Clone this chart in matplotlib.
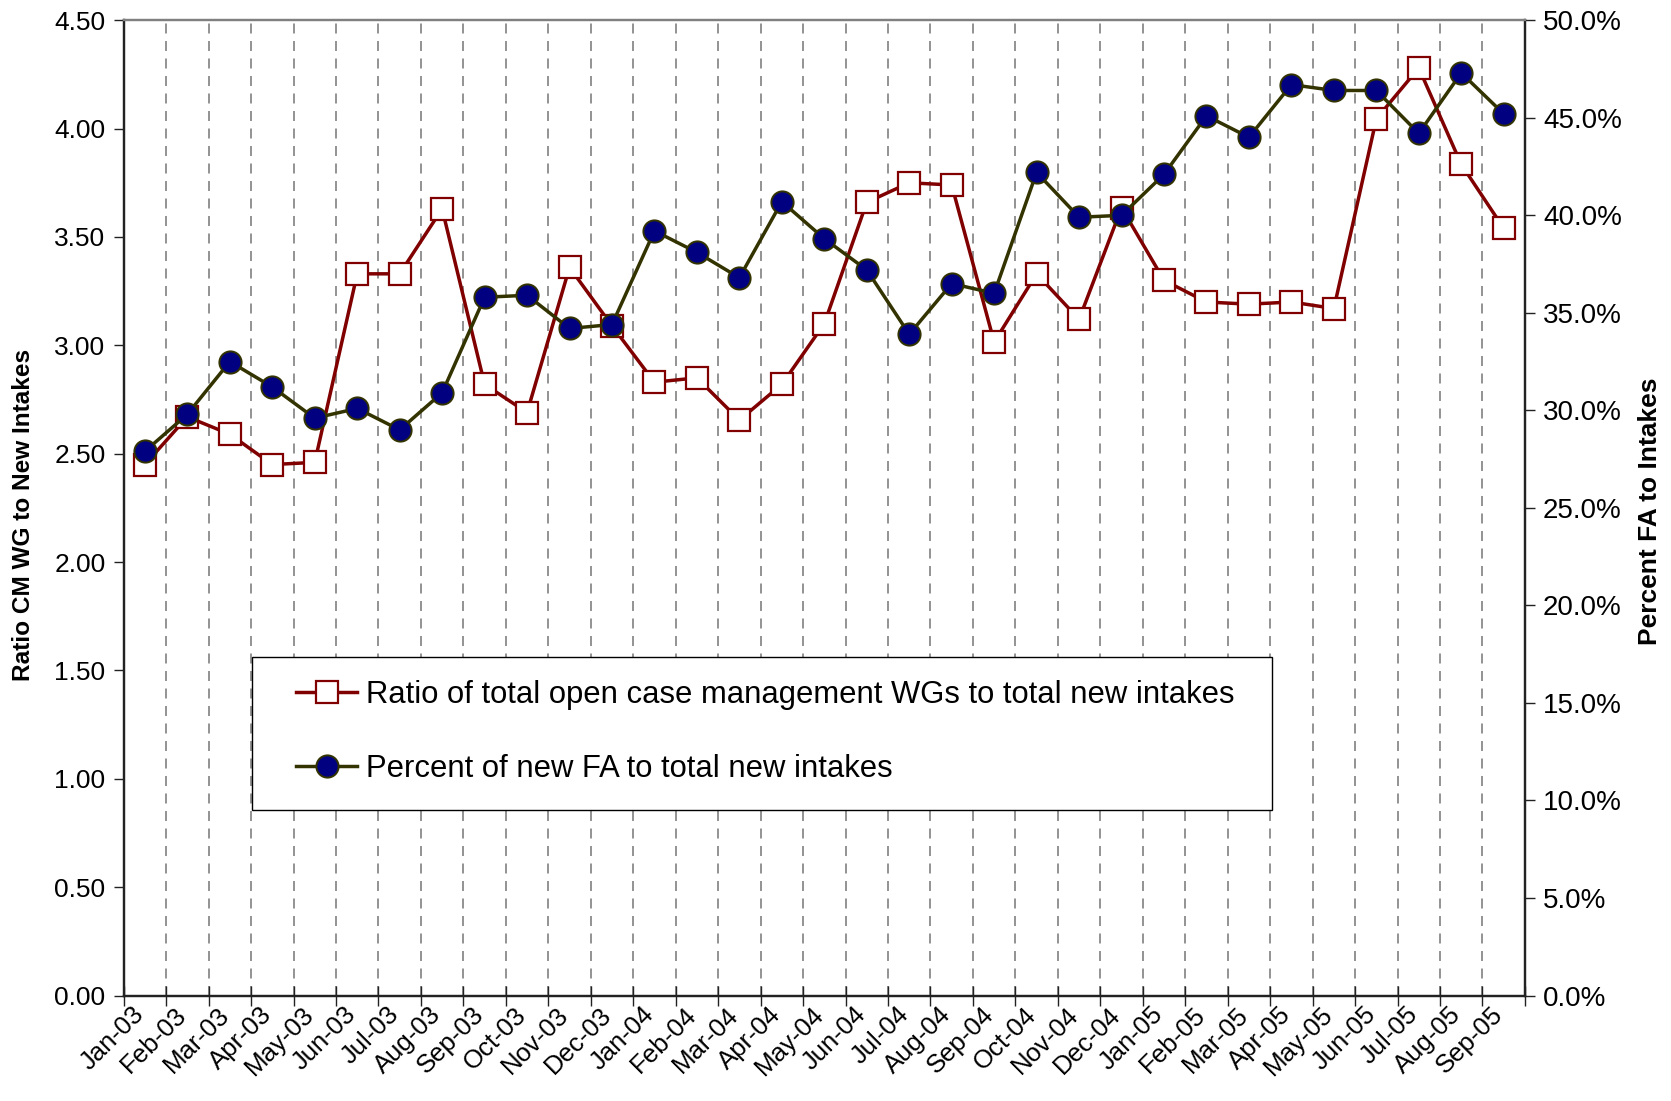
import matplotlib
matplotlib.use("Agg")
import matplotlib.pyplot as plt
from matplotlib.lines import Line2D
from matplotlib.patches import Rectangle
import matplotlib.transforms as mtransforms
import numpy as np

plt.rcParams['font.family'] = ['Liberation Sans', 'DejaVu Sans']

months = ["Jan-03", "Feb-03", "Mar-03", "Apr-03", "May-03", "Jun-03", "Jul-03", "Aug-03",
          "Sep-03", "Oct-03", "Nov-03", "Dec-03", "Jan-04", "Feb-04", "Mar-04", "Apr-04",
          "May-04", "Jun-04", "Jul-04", "Aug-04", "Sep-04", "Oct-04", "Nov-04", "Dec-04",
          "Jan-05", "Feb-05", "Mar-05", "Apr-05", "May-05", "Jun-05", "Jul-05", "Aug-05",
          "Sep-05"]

ratio_cm_wg = [2.45, 2.67, 2.59, 2.45, 2.46, 3.33, 3.33, 3.63, 2.82, 2.69,
               3.36, 3.09, 2.83, 2.85, 2.655, 2.82, 3.10, 3.66, 3.75, 3.74,
               3.015, 3.33, 3.12, 3.635, 3.30, 3.20, 3.19, 3.20, 3.17, 4.045,
               4.28, 3.835, 3.54]

pct_new_fa = [27.9, 29.8, 32.5, 31.2, 29.6, 30.1, 29.0, 30.9, 35.8, 35.9,
              34.2, 34.4, 39.2, 38.1, 36.8, 40.7, 38.8, 37.2, 33.9, 36.5,
              36.0, 42.2, 39.9, 40.0, 42.1, 45.1, 44.0, 46.7, 46.4, 46.4,
              44.2, 47.3, 45.2]

left_ticks = [0.0, 0.5, 1.0, 1.5, 2.0, 2.5, 3.0, 3.5, 4.0, 4.5]
right_ticks = [0, 5, 10, 15, 20, 25, 30, 35, 40, 45, 50]

label_ratio = "Ratio of total open case management WGs to total new intakes"
label_pct = "Percent of new FA to total new intakes"

RED = "#800000"
OLIVE = "#333300"
NAVY = "#000080"
SPINE = "#222222"

fig = plt.figure(figsize=(16.71, 11.01), dpi=100)
ax = fig.add_axes([0.074, 0.0958, 0.8386, 0.8858])
ax2 = ax.twinx()

x = np.arange(len(months))
n = len(months)

ax.plot(x, ratio_cm_wg, color=RED, lw=2.5, marker='s', markersize=16.5,
        markerfacecolor='white', markeredgecolor=RED, markeredgewidth=1.6, zorder=3)
ax2.plot(x, pct_new_fa, color=OLIVE, lw=2.5, marker='o', markersize=16,
         markerfacecolor=NAVY, markeredgecolor=OLIVE, markeredgewidth=1.4, zorder=3)

ax.set_xlim(-0.5, n - 0.5)
ax.set_ylim(0, 4.5)
ax2.set_ylim(0, 50)

# x axis: labels at category centres, ticks/grid at boundaries
ax.set_xticks(x)
ax.set_xticklabels(months, rotation=45, ha='right', va='top', rotation_mode='anchor',
                   fontsize=18.5)
ax.tick_params(axis='x', which='major', length=0, pad=5)
shift = mtransforms.ScaledTranslation(-13 / 100, 0, fig.dpi_scale_trans)
for lab in ax.get_xticklabels():
    lab.set_transform(lab.get_transform() + shift)
bounds = np.arange(n + 1) - 0.5
ax.set_xticks(bounds, minor=True)
ax.tick_params(axis='x', which='minor', direction='inout', length=14, width=1.0, color=SPINE)
for b in bounds[1:-1]:
    ax.axvline(b, color='#808080', lw=1.2, ls=(0, (6, 4.5)), zorder=1)

ax.set_yticks(left_ticks)
ax.set_yticklabels([f"{v:.2f}" for v in left_ticks], fontsize=19)
ax.tick_params(axis='y', direction='out', length=7, width=1.0, color=SPINE, pad=6)

ax2.set_yticks(right_ticks)
ax2.set_yticklabels([f"{v:.1f}%" for v in right_ticks], fontsize=20)
ax2.tick_params(axis='y', direction='out', length=7, width=1.0, color=SPINE, pad=6)

ax.set_ylabel("Ratio CM WG to New Intakes", fontsize=17.6, fontweight='bold')
ax.yaxis.set_label_coords(-0.0632, 0.4929)
ax2.set_ylabel("Percent FA to Intakes", fontsize=19, fontweight='bold')
ax2.yaxis.set_label_coords(1.0806, 0.4967)

for a in (ax, ax2):
    for s in ('left', 'right', 'bottom'):
        a.spines[s].set_color(SPINE)
        a.spines[s].set_linewidth(1.6)
    a.spines['top'].set_color('#808080')
    a.spines['top'].set_linewidth(1.6)

# legend frame
frame = Rectangle((0.0913, 0.190), 0.8198 - 0.0913, 0.3475 - 0.190,
                  transform=ax2.transAxes, facecolor='white', edgecolor='black',
                  lw=1.0, zorder=4)
ax2.add_patch(frame)

handles = [
    Line2D([], [], color=RED, lw=2.5, marker='s', markersize=16.5,
           markerfacecolor='white', markeredgecolor=RED, markeredgewidth=1.6),
    Line2D([], [], color=OLIVE, lw=2.5, marker='o', markersize=16,
           markerfacecolor=NAVY, markeredgecolor=OLIVE, markeredgewidth=1.4),
]
leg = ax2.legend(handles, [label_ratio, label_pct], loc='center left',
                 bbox_to_anchor=(0.1232, 0.2705),
                 fontsize=22.3, frameon=False, borderpad=0,
                 labelspacing=1.43, handlelength=1.96, handletextpad=0.3,
                 borderaxespad=0)
leg.set_zorder(5)

fig.savefig("out.png", dpi=100)
